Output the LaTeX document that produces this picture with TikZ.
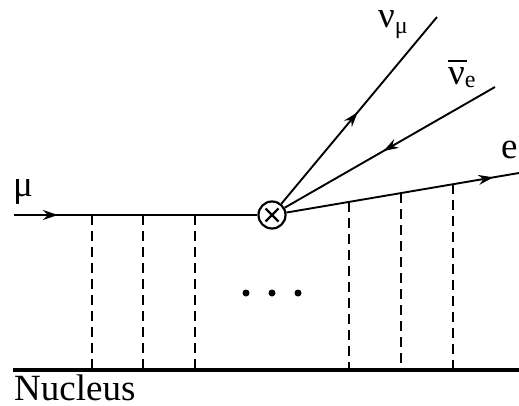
\documentclass[tikz,border=0pt]{standalone}
\usepackage{fontspec}
\setmainfont{Liberation Serif}
\usetikzlibrary{arrows.meta,decorations.markings,calc}
\tikzset{
  fline/.style={line width=1.9pt},
  exch/.style={line width=1.9pt, dash pattern=on 10pt off 6pt},
  midarrow/.style={postaction={decorate},decoration={markings,mark=at position #1 with {\arrow{Stealth[length=15pt,width=10pt,inset=5pt]}}}},
  lbl/.style={inner sep=0pt, font=\fontsize{37}{40}\selectfont},
  dotnode/.style={circle, fill, inner sep=0pt, minimum size=7pt},
}
\newcommand{\subsc}[1]{{\fontsize{24}{24}\selectfont #1}}
\newcommand{\barnu}{\leavevmode\rlap{\raisebox{23pt}{\rule{19pt}{1.8pt}}}ν}
\begin{document}
\begin{tikzpicture}[x=1pt,y=1pt]
\useasboundingbox (0,0) rectangle (519,405);
% nucleus
\coordinate (nl) at (13,35);
\coordinate (nr) at (519,35);
\draw[line width=4.5pt] (nl) -- (nr);
\node[lbl, anchor=base west] (nuc) at (14,5) {Nucleus};
% vertex
\node[circle, draw, line width=2.2pt, minimum size=27pt, inner sep=0pt] (v) at (272,190) {};
\draw[line width=2.2pt] ($(v)+(-6.5,-6.5)$) -- ($(v)+(6.5,6.5)$);
\draw[line width=2.2pt] ($(v)+(-6.5,6.5)$) -- ($(v)+(6.5,-6.5)$);
% muon
\coordinate (mus) at (14,190);
\draw[fline, midarrow=0.18] (mus) -- (v);
\node[lbl, anchor=base west] (mulab) at (13,209) {μ};
% outgoing
\coordinate (nmu) at (437,388);
\coordinate (nue) at (495,318);
\coordinate (ee) at (519,232);
\draw[fline, midarrow=0.49] (v) -- (nmu);
\draw[fline, midarrow=0.53] (nue) -- (v);
\draw[fline, midarrow=0.89] (v) -- (ee);
\node[lbl, anchor=base west] (nmulab) at (378,377) {ν\raisebox{-6pt}{\subsc{μ}}};
\node[lbl, anchor=base west] (nuelab) at (448,320) {\barnu\raisebox{-3pt}{\subsc{e}}};
\node[lbl, anchor=base west] (elab) at (501,247) {e};
% dashed exchange lines, left
\foreach \x/\n in {92/a,143/b,195/c} {
  \coordinate (t\n) at (\x,190);
  \draw[exch] (t\n) -- (t\n |- nl);
}
% dashed exchange lines, right
\foreach \t/\n in {0.312/d,0.522/e,0.733/f} {
  \coordinate (t\n) at ($(v)!\t!(ee)$);
  \draw[exch] (t\n) -- (t\n |- nl);
}
% dots
\node[dotnode] (d1) at (246,112) {};
\node[dotnode] (d2) at (272,112) {};
\node[dotnode] (d3) at (298,112) {};
\end{tikzpicture}
\end{document}
